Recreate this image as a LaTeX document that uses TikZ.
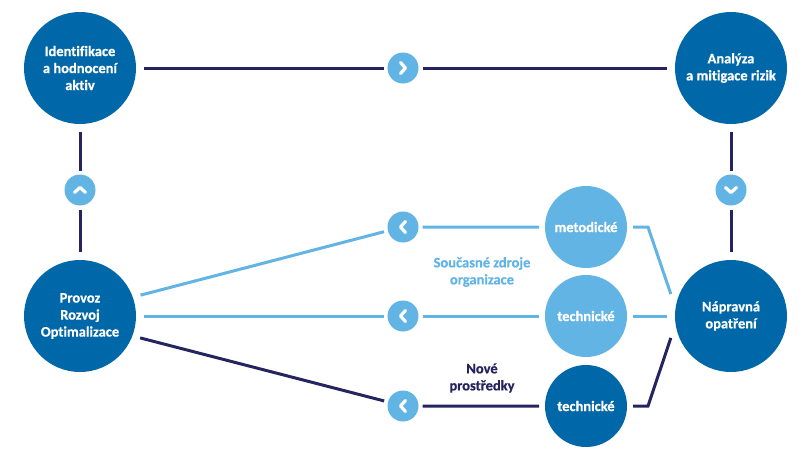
\documentclass[tikz,border=0pt]{standalone}
\usepackage{fontspec}
\setmainfont{Carlito}[Ligatures=NoCommon, BoldFeatures={FakeBold=0.6}]
\usetikzlibrary{positioning}
\definecolor{riskblue}{RGB}{0,103,168}
\definecolor{skyblue}{RGB}{98,180,228}
\definecolor{navyline}{RGB}{38,36,96}

\begin{document}
\begin{tikzpicture}[x=1pt, y=-1pt,
    phase/.style={circle, fill=riskblue, text=white, minimum size=112pt, inner sep=0pt, outer sep=8pt, align=center, font=\fontsize{14.5}{17}\selectfont\bfseries},
    source/.style={circle, fill=skyblue, text=white, minimum size=82pt, inner sep=0pt, outer sep=6pt, font=\fontsize{14.5}{17}\selectfont\bfseries},
    chev/.style={circle, fill=skyblue, minimum size=31pt, inner sep=0pt, outer sep=4pt, path picture={\draw[white, line width=3.2pt, line cap=round, line join=round] ([shift={(#1+114:6pt)}]path picture bounding box.center) -- ([shift={(#1:2.5pt)}]path picture bounding box.center) -- ([shift={(#1-114:6pt)}]path picture bounding box.center);}},
    flow/.style={draw=navyline, line width=3pt},
    feed/.style={draw=skyblue, line width=3pt},
    note/.style={align=center, font=\fontsize{14.5}{17}\selectfont\bfseries}]
    \useasboundingbox (0,0) rectangle (807,451);
    \node [phase] (ident) at (80,68) {Identifikace\\a hodnocení\\aktiv};
    \node [phase] (anal) at (731,68) {Analýza\\a mitigace rizik};
    \node [phase] (prov) at (80,316) {Provoz\\Rozvoj\\Optimalizace};
    \node [phase] (naprav) at (731,316) {Nápravná\\opatření};
    \node [source] (metod) at (586,227) {metodické};
    \node [source] (techA) at (586,316) {technické};
    \node [source, fill=riskblue] (techB) at (586,406) {technické};
    \node [chev=0] (chevT) at (403,68) {};
    \node [chev=90] (chevL) at (80,190) {};
    \node [chev=-90] (chevR) at (731,190) {};
    \node [chev=180] (chevA) at (403,227) {};
    \node [chev=180] (chevB) at (403,316) {};
    \node [chev=180] (chevC) at (403,406) {};
    \node [note, text=skyblue] (current) at (482,272) {Současné zdroje\\organizace};
    \node [note, text=navyline] (new) at (482,378) {Nové\\prostředky};
    \path [flow] (ident) -- (chevT) (chevT) -- (anal);
    \path [flow] (ident) -- (chevL) (chevL) -- (prov);
    \path [flow] (anal) -- (chevR) (chevR) -- (naprav);
    \path [feed] (metod) -- (chevA) (chevA.194) -- (prov.19);
    \path [feed] (techA) -- (chevB) (chevB) -- (prov);
    \path [flow] (techB) -- (chevC) (chevC.165) -- (prov.-20);
    \path [feed] (metod.east) -- ++(15,0) -- (naprav.160);
    \path [feed] (techA) -- (naprav);
    \path [flow] (techB.east) -- ++(15,0) -- (naprav.200);
\end{tikzpicture}
\end{document}
